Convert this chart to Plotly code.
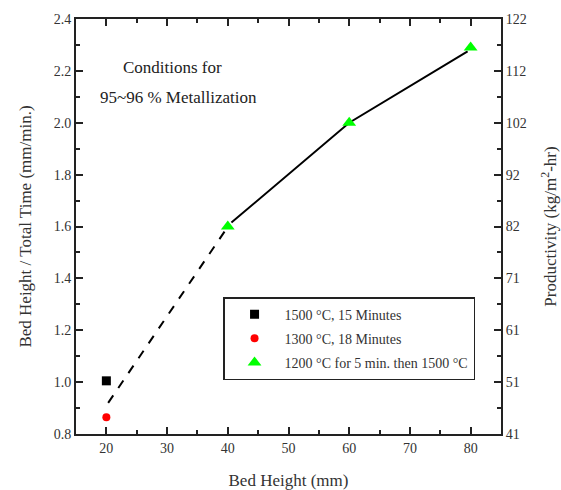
import plotly.graph_objects as go

# Data
bed_height_sq = [20]
rate_sq = [1.005]
bed_height_circ = [20]
rate_circ = [0.865]
bed_height_tri = [40, 60, 80]
rate_tri = [1.6, 2.0, 2.29]

fit_dash_x = [20.3, 39.6]
fit_dash_y = [0.92, 1.585]
fit_solid_x = [40.6, 60, 79.5]
fit_solid_y = [1.615, 2.0, 2.275]

left_ticks = [0.8, 1.0, 1.2, 1.4, 1.6, 1.8, 2.0, 2.2, 2.4]
right_ticktext = ["41", "51", "61", "71", "82", "92", "102", "112", "122"]
x_ticks = [20, 30, 40, 50, 60, 70, 80]

legend_names = ["1500 °C, 15 Minutes", "1300 °C, 18 Minutes",
                "1200 °C for 5 min. then 1500 °C"]

FONT = "Times New Roman, Liberation Serif, serif"
AX = "#222"
TXT = "#333"

fig = go.Figure()
fig.add_trace(go.Scatter(x=fit_dash_x, y=fit_dash_y, mode="lines",
                         line=dict(color="black", width=2, dash="dash"),
                         showlegend=False))
fig.add_trace(go.Scatter(x=fit_solid_x, y=fit_solid_y, mode="lines",
                         line=dict(color="black", width=2),
                         showlegend=False))
fig.add_trace(go.Scatter(x=bed_height_sq, y=rate_sq, mode="markers",
                         marker=dict(symbol="square", color="black", size=9),
                         name=legend_names[0], legendgroup="a"))
fig.add_trace(go.Scatter(x=bed_height_circ, y=rate_circ, mode="markers",
                         marker=dict(symbol="circle", color="red", size=8),
                         name=legend_names[1], legendgroup="b"))
fig.add_trace(go.Scatter(x=bed_height_tri, y=rate_tri, mode="markers",
                         marker=dict(symbol="triangle-up", color="#00ff00", size=12),
                         name=legend_names[2], legendgroup="c"))
# invisible trace to activate right axis
fig.add_trace(go.Scatter(x=[None], y=[None], yaxis="y2", showlegend=False,
                         hoverinfo="skip"))

axis_common = dict(showline=True, linecolor=AX, linewidth=2, ticks="inside",
                   tickcolor=AX, tickwidth=1.5, ticklen=7, showgrid=False,
                   zeroline=False, automargin=False,
                   tickfont=dict(family=FONT, size=14, color=TXT))
minor_common = dict(ticks="inside", ticklen=4, tickcolor=AX, tickwidth=1.5, showgrid=False)
title_font = dict(family=FONT, size=17, color=TXT)

fig.update_layout(
    width=561, height=490,
    margin=dict(l=76, r=60, t=19, b=56),
    plot_bgcolor="white", paper_bgcolor="white",
    font=dict(family=FONT, color=TXT),
    xaxis=dict(range=[15, 85], tickvals=x_ticks, mirror="ticks",
               minor=dict(dtick=5, **minor_common),
               title=dict(text="Bed Height (mm)", font=title_font, standoff=22),
               **axis_common),
    yaxis=dict(range=[0.8, 2.4], tickvals=left_ticks, tickformat=".1f", mirror=True,
               minor=dict(dtick=0.1, **minor_common),
               title=dict(text="Bed Height / Total Time (mm/min.)",
                          font=title_font, standoff=18),
               **axis_common),
    yaxis2=dict(range=[0.8, 2.4], overlaying="y", side="right", tickvals=left_ticks,
                ticktext=right_ticktext,
                minor=dict(dtick=0.1, **minor_common),
                title=dict(text="Productivity (kg/m<sup>2</sup>-hr)",
                           font=title_font, standoff=18),
                **axis_common),
    legend=dict(x=0.346, y=0.33, xanchor="left", yanchor="top",
                bordercolor=AX, borderwidth=1.5, bgcolor="white",
                font=dict(family=FONT, size=14, color=TXT),
                itemwidth=50,
                traceorder="grouped", tracegroupgap=3),
    annotations=[
        dict(x=0.226, y=0.882, xref="paper", yref="paper", text="Conditions for",
             xanchor="center", yanchor="middle",
             showarrow=False, font=dict(family=FONT, size=17, color="#222")),
        dict(x=0.242, y=0.812, xref="paper", yref="paper", text="95~96 % Metallization",
             xanchor="center", yanchor="middle",
             showarrow=False, font=dict(family=FONT, size=17, color="#222")),
    ],
)

fig.write_html("out.html", config={"displayModeBar": False},
               post_script="document.body.style.margin='0';")
